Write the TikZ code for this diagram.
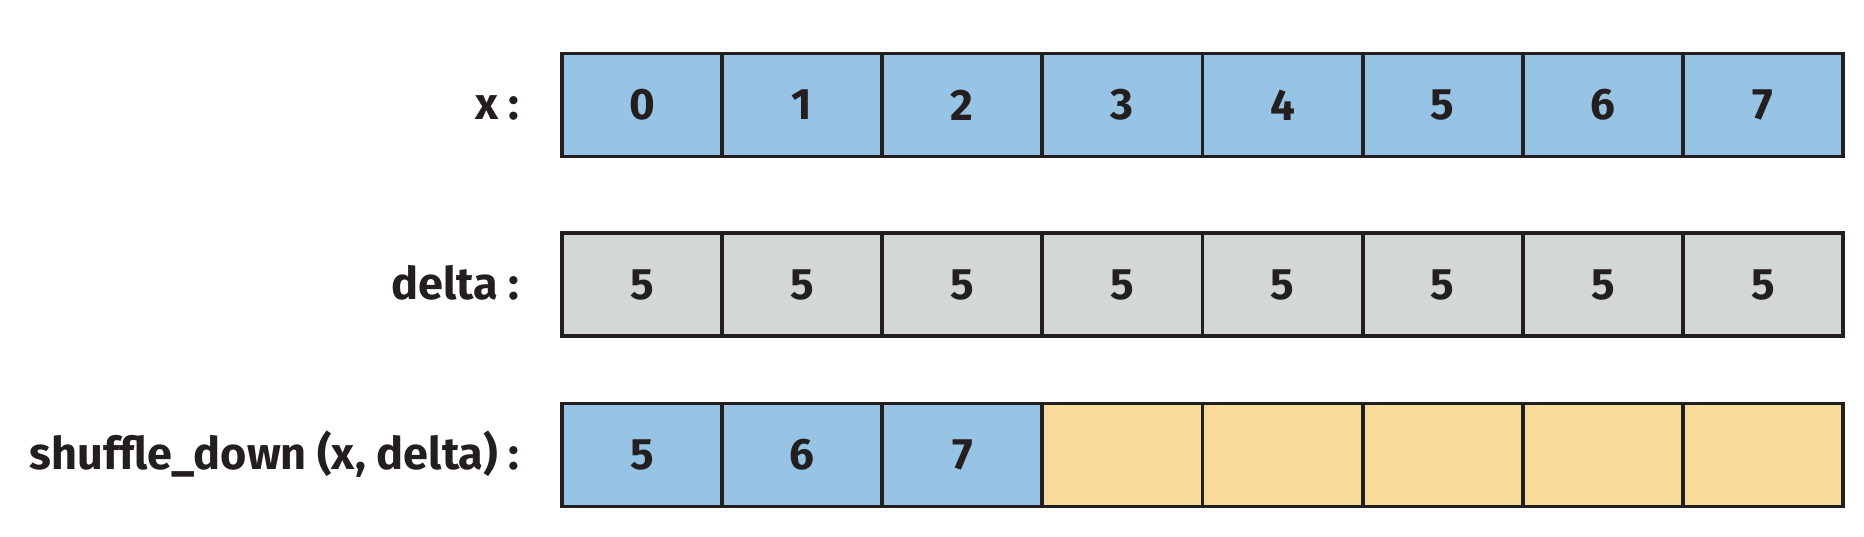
\documentclass[tikz,border=0pt]{standalone}
\usepackage{fontspec}
\setmainfont{Fira Sans}
\definecolor{cblue}{HTML}{97C4E4}
\definecolor{cgray}{HTML}{D3D7D8}
\definecolor{cyellow}{HTML}{F8DB9B}
\definecolor{cline}{HTML}{231F20}
\begin{document}
\begin{tikzpicture}[x=0.5pt,y=-0.5pt,
  cell/.style={draw=cline, line width=1.9pt, minimum width=80.06pt, minimum height=51.5pt, inner sep=0pt,
    font=\fontsize{22}{26}\selectfont\bfseries, text=cline},
  lab/.style={anchor=base east, inner sep=0pt, font=\fontsize{22.5}{26}\selectfont\bfseries, text=cline}]
\useasboundingbox (0,0) rectangle (1864,536);
\foreach \i in {0,...,7}
  \node[cell, fill=cblue] (x\i) at ({642.06+160.12*\i},105) {\i};
\foreach \i in {0,...,7}
  \node[cell, fill=cgray] (d\i) at ({642.06+160.12*\i},284.5) {5};
\foreach \i/\v in {0/5,1/6,2/7}
  \node[cell, fill=cblue] (s\i) at ({642.06+160.12*\i},455) {\v};
\foreach \i in {3,...,7}
  \node[cell, fill=cyellow] (s\i) at ({642.06+160.12*\i},455) {};
\node[lab] (lx) at (520,119.5) {x :};
\node[lab] (ld) at (520,299) {delta :};
\node[lab] (ls) at (520,469.5) {shuffle\_down (x, delta) :};
\end{tikzpicture}
\end{document}
